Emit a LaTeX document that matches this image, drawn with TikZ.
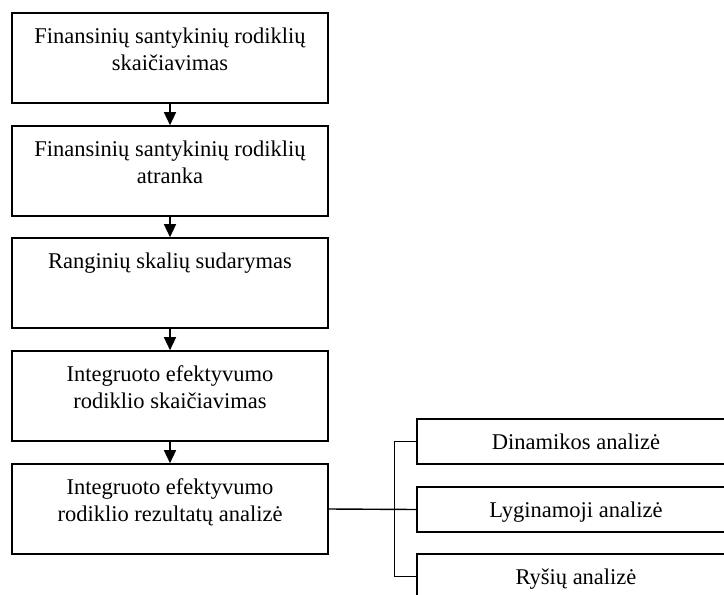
\documentclass[tikz,border=0pt]{standalone}
\usepackage{fontspec}
\setmainfont{Liberation Serif}
\usetikzlibrary{arrows.meta}
\tikzset{
  box/.style={draw, line width=1.6pt, rectangle, inner sep=0pt},
  mainbox/.style={box, minimum width=316pt, minimum height=90pt},
  sidebox/.style={box, minimum width=318pt, minimum height=45pt},
  lbl/.style={inner sep=0pt, align=center, anchor=base, font=\fontsize{22.5}{27}\selectfont},
  arr/.style={line width=1.4pt, -{Triangle[length=13pt,width=12pt]}},
  conn/.style={line width=1.4pt}
}
\begin{document}
\begin{tikzpicture}[x=1pt,y=1pt]
\useasboundingbox (0,0) rectangle (724,-595);
\clip (0,0) rectangle (724,-595);
\node[mainbox] (b1) at (170,-58) {};
\node[mainbox] (b2) at (170,-171) {};
\node[mainbox] (b3) at (170,-283) {};
\node[mainbox] (b4) at (170,-396) {};
\node[mainbox] (b5) at (170,-509) {};
\node[sidebox] (r1) at (576,-441.5) {};
\node[sidebox] (r2) at (576,-509.5) {};
\node[sidebox] (r3) at (576,-576.5) {};
\node[lbl] (t1) at ([yshift=-58pt]b1.north) {Finansinių santykinių rodiklių\\skaičiavimas};
\node[lbl] (t2) at ([yshift=-58pt]b2.north) {Finansinių santykinių rodiklių\\atranka};
\node[lbl] (t3) at ([yshift=-31pt]b3.north) {Ranginių skalių sudarymas};
\node[lbl] (t4) at ([yshift=-58pt]b4.north) {Integruoto efektyvumo\\rodiklio skaičiavimas};
\node[lbl] (t5) at ([yshift=-58pt]b5.north) {Integruoto efektyvumo\\rodiklio rezultatų analizė};
\node[lbl] (u1) at ([yshift=-31pt]r1.north) {Dinamikos analizė};
\node[lbl] (u2) at ([yshift=-31pt]r2.north) {Lyginamoji analizė};
\node[lbl] (u3) at ([yshift=-31pt]r3.north) {Ryšių analizė};
\draw[arr] (b1.south) -- (b2.north);
\draw[arr] (b2.south) -- (b3.north);
\draw[arr] (b3.south) -- (b4.north);
\draw[arr] (b4.south) -- (b5.north);
\draw[conn] (b5.east) -- (r2.west);
\draw[conn] (r1.west) -- ++(-22,0) |- (r3.west);
\end{tikzpicture}
\end{document}
